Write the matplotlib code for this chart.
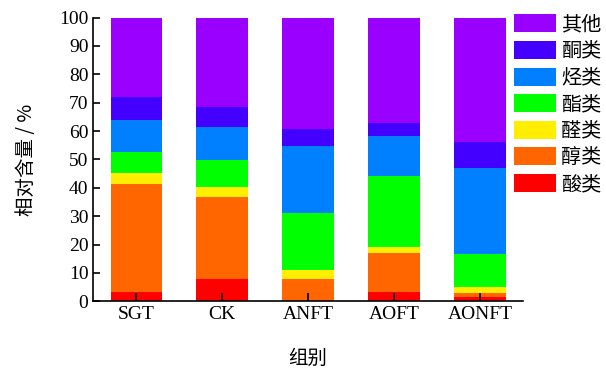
import matplotlib.pyplot as plt
import numpy as np

plt.rcParams['font.family'] = ['Liberation Serif', 'Noto Sans CJK SC']

groups = ['SGT', 'CK', 'ANFT', 'AOFT', 'AONFT']
# 各类物质相对含量 (%)
acid = [3.4, 7.8, 0.0, 3.3, 1.6]        # 酸类
alcohol = [37.9, 29.1, 8.0, 13.8, 1.5]  # 醇类
aldehyde = [3.8, 3.3, 3.1, 2.1, 2.0]    # 醛类
ester = [7.6, 9.6, 20.2, 24.8, 11.6]    # 酯类
alkane = [11.3, 11.7, 23.6, 14.1, 30.4] # 烃类
ketone = [8.1, 7.1, 5.9, 4.8, 9.1]      # 酮类
other = [27.9, 31.4, 39.2, 37.1, 43.8]  # 其他

names = ['酸类', '醇类', '醛类', '酯类', '烃类', '酮类', '其他']
colors = ['#FF0000', '#FF6600', '#FFEE00', '#00FF00', '#0080FF', '#4400FF', '#9900FF']
series = [acid, alcohol, aldehyde, ester, alkane, ketone, other]

fig = plt.figure(figsize=(6.06, 3.73), dpi=100)
ax = fig.add_axes([0.154, 0.192, 0.709, 0.761])

x = np.arange(len(groups))
bottom = np.zeros(len(groups))
handles = []
for vals, name, c in zip(series, names, colors):
    b = ax.bar(x, vals, 0.6, bottom=bottom, color=c, label=name, linewidth=0)
    handles.append(b)
    bottom += np.array(vals)

ax.set_xlim(-0.5, 4.5)
ax.set_ylim(0, 100)
ax.set_yticks(range(0, 101, 10))
ax.set_xticks(x)
ax.set_xticklabels(groups)
ax.tick_params(direction='in', labelsize=14, width=1.2, length=5)
ax.tick_params(axis='x', length=6)
for s in ['top', 'right']:
    ax.spines[s].set_visible(False)
for s in ['left', 'bottom']:
    ax.spines[s].set_linewidth(1.2)

ax.set_ylabel('相对含量 / %', fontsize=14, family=['Noto Sans CJK SC', 'Liberation Serif'],
              labelpad=16)
ax.set_xlabel('组别', fontsize=14, family=['Noto Sans CJK SC'], labelpad=18)

leg = ax.legend(handles[::-1], names[::-1], loc='upper left',
                bbox_to_anchor=(0.848, 0.962), bbox_transform=fig.transFigure,
                frameon=False, handlelength=2.1, handleheight=1.0,
                labelspacing=0.28, handletextpad=0.25, borderpad=0, borderaxespad=0,
                prop={'family': 'Noto Sans CJK SC', 'size': 14.5})

fig.savefig('out.png', dpi=100)
